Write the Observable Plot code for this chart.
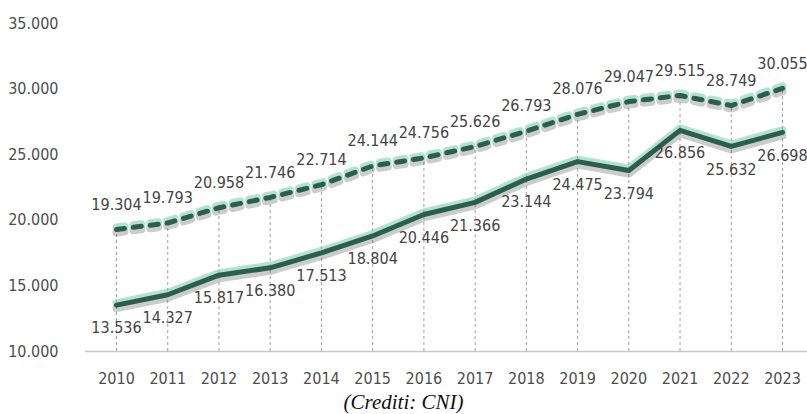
<!DOCTYPE html>
<html>
<head>
<meta charset="utf-8">
<script src="https://cdn.jsdelivr.net/npm/d3@7"></script>
<script src="https://cdn.jsdelivr.net/npm/@observablehq/plot@0.6"></script>
<style>
  html, body { margin: 0; padding: 0; background: #fff; }
  #caption { font: italic 21px "Liberation Serif", "DejaVu Serif", serif; color: #111; text-align: center; line-height: 21px; width: 807px; margin-top: 0px; }
  #chart svg text { font-stretch: condensed; }
</style>
</head>
<body>
<div id="chart"></div>
<div id="caption">(Crediti: CNI)</div>
<script>
const years = [2010, 2011, 2012, 2013, 2014, 2015, 2016, 2017, 2018, 2019, 2020, 2021, 2022, 2023];
const upperValues = [19304, 19793, 20958, 21746, 22714, 24144, 24756, 25626, 26793, 28076, 29047, 29515, 28749, 30055];
const lowerValues = [13536, 14327, 15817, 16380, 17513, 18804, 20446, 21366, 23144, 24475, 23794, 26856, 25632, 26698];
const yTicks = [10000, 15000, 20000, 25000, 30000, 35000];

const upper = years.map((y, i) => ({year: y, value: upperValues[i]}));
const lower = years.map((y, i) => ({year: y, value: lowerValues[i]}));
const fmt = d3.formatLocale({decimal: ",", thousands: ".", grouping: [3], currency: ["€", ""]}).format(",d");

const font = '"DejaVu Sans Condensed", "DejaVu Sans", sans-serif';
const green = "#2f5d4d";

const lineLayers = (data, dash) => [
  Plot.line(data, {x: "year", y: "value", stroke: "#555", strokeOpacity: 0.3, strokeWidth: 8, dy: 3, strokeDasharray: dash}),
  Plot.line(data, {x: "year", y: "value", stroke: "#5cc9a8", strokeOpacity: 0.5, strokeWidth: 8, dy: -2, strokeDasharray: dash}),
  Plot.line(data, {x: "year", y: "value", stroke: green, strokeWidth: 5, strokeDasharray: dash})
];

const chart = Plot.plot({
  width: 807,
  height: 392,
  marginLeft: 116,
  marginRight: 25,
  marginTop: 23,
  marginBottom: 41,
  style: {fontFamily: font, fontSize: "16px", color: "#4d4d4d", background: "#fff"},
  x: {domain: [2010, 2023], ticks: years, tickFormat: d => String(d), tickSize: 0, tickPadding: 21, label: null},
  y: {domain: [10000, 35000], ticks: yTicks, tickFormat: fmt, tickSize: 0, tickPadding: 58, label: null},
  marks: [
    Plot.ruleY([10000], {stroke: "#c8c8c8", strokeWidth: 1.5, insetLeft: -31, insetRight: -25}),
    Plot.ruleX(upper, {x: "year", y1: 10000, y2: "value", stroke: "#a0a0a0", strokeWidth: 1, strokeDasharray: "3,3"}),
    ...lineLayers(upper, "8,9"),
    ...lineLayers(lower, null),
    Plot.text(upper, {x: "year", y: "value", text: d => fmt(d.value), dy: -25, fill: "#444", fontSize: 16}),
    Plot.text(lower, {x: "year", y: "value", text: d => fmt(d.value), dy: 23, fill: "#444", fontSize: 16})
  ]
});
document.getElementById("chart").appendChild(chart);
</script>
</body>
</html>
